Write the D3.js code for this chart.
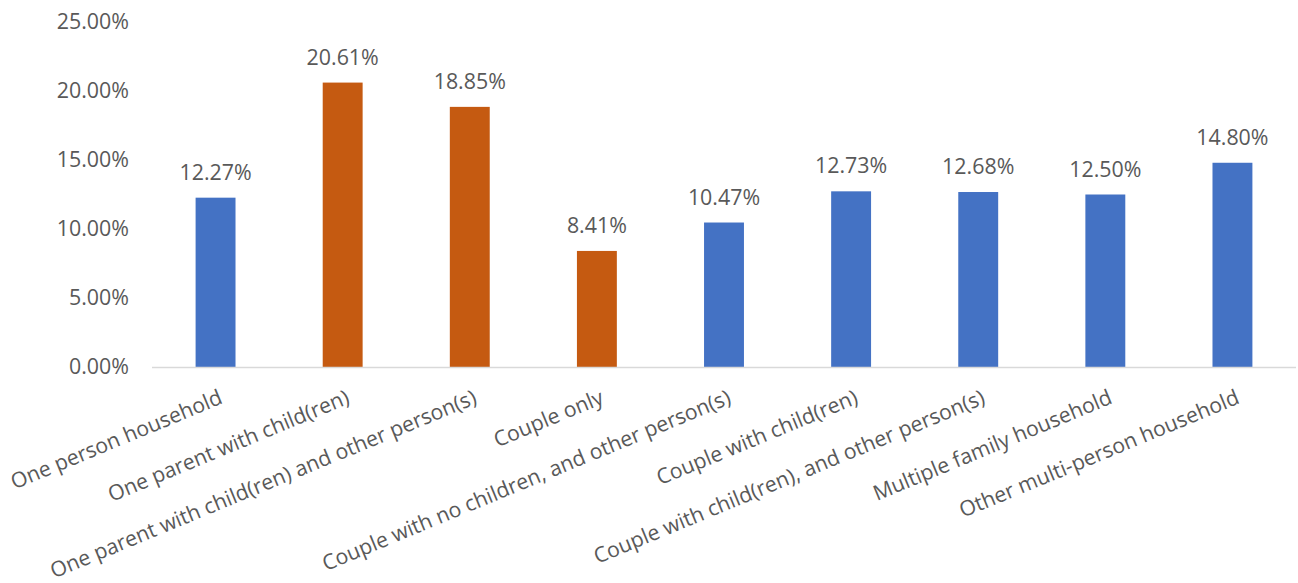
<!DOCTYPE html>
<html>
<head>
<meta charset="utf-8">
<script src="https://cdn.jsdelivr.net/npm/d3@7"></script>
<style>
  html, body { margin: 0; padding: 0; background: #fff; }
  svg { display: block; }
  text { font-family: "Open Sans", "Noto Sans", sans-serif; fill: #595959; }
</style>
</head>
<body>
<svg id="chart" width="1298" height="583"></svg>
<script>
const categories = [
  "One person household",
  "One parent with child(ren)",
  "One parent with child(ren) and other person(s)",
  "Couple only",
  "Couple with no children, and other person(s)",
  "Couple with child(ren)",
  "Couple with child(ren), and other person(s)",
  "Multiple family household",
  "Other multi-person household"
];
const values = [12.27, 20.61, 18.85, 8.41, 10.47, 12.73, 12.68, 12.50, 14.80];
const highlighted = [
  "One parent with child(ren)",
  "One parent with child(ren) and other person(s)",
  "Couple only"
];
const yTicks = [0, 5, 10, 15, 20, 25];

(function () {
const svg = d3.select("#chart");
const plotLeft = 152, plotRight = 1296, plotTop = 22, plotBottom = 367;
const fontSize = "21.4px";

const x = d3.scaleBand().domain(categories).range([plotLeft, plotRight])
  .paddingInner(0.686).paddingOuter(0.343);
const y = d3.scaleLinear().domain([0, 25]).range([plotBottom, plotTop]);

const fmt = v => v.toFixed(2) + "%";

// y tick labels
svg.append("g").selectAll("text").data(yTicks).join("text")
  .attr("x", 129)
  .attr("y", d => y(d))
  .attr("dy", "0.35em")
  .attr("text-anchor", "end")
  .style("font-size", fontSize)
  .text(fmt);

// bars
svg.append("g").selectAll("rect").data(categories).join("rect")
  .attr("x", d => x(d))
  .attr("width", x.bandwidth())
  .attr("y", (d, i) => y(values[i]))
  .attr("height", (d, i) => y(0) - y(values[i]))
  .attr("fill", d => highlighted.includes(d) ? "#C55A11" : "#4472C4");

// axis line
svg.append("line")
  .attr("x1", plotLeft).attr("x2", plotRight)
  .attr("y1", y(0) + 0.5).attr("y2", y(0) + 0.5)
  .attr("stroke", "#D9D9D9").attr("stroke-width", 1.5);

// data labels
svg.append("g").selectAll("text").data(categories).join("text")
  .attr("x", d => x(d) + x.bandwidth() / 2)
  .attr("y", (d, i) => y(values[i]) - 18)
  .attr("text-anchor", "middle")
  .style("font-size", fontSize)
  .text((d, i) => fmt(values[i]));

// category labels
svg.append("g").selectAll("text").data(categories).join("text")
  .attr("transform", d => `translate(${x(d) + x.bandwidth() / 2 + 2},${y(0) + 21}) rotate(-22.5)`)
  .attr("text-anchor", "end")
  .attr("dy", "0.76em")
  .style("font-size", "21.2px")
  .text(d => d);
})();
</script>
</body>
</html>
